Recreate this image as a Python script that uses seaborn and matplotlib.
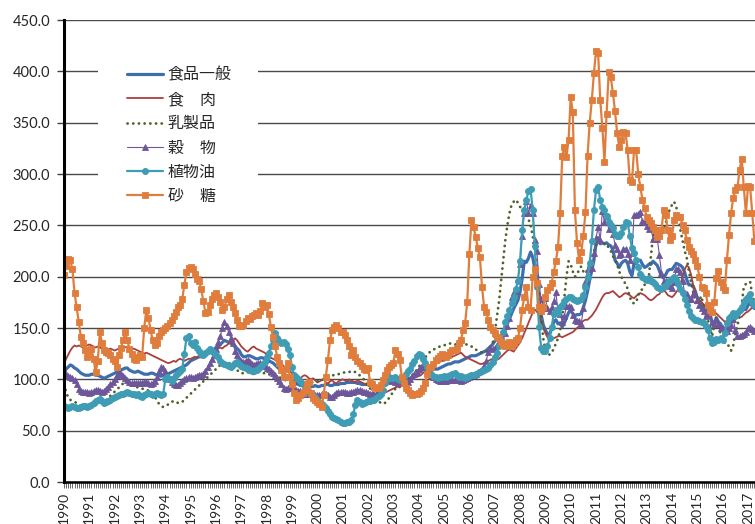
"""
FAO food price indices (2002-2004 = 100), monthly, Jan 1990 - Apr 2017.
"""
import matplotlib

matplotlib.use("Agg")
import matplotlib.pyplot as plt
import numpy as np
import pandas as pd
import seaborn as sns
from matplotlib.patches import Rectangle
from matplotlib.ticker import FuncFormatter, MultipleLocator

years = list(range(1990, 2018))

# one row per year, Jan..Dec (2017: Jan..Apr)
food = [
    107, 110, 112, 114, 113, 111, 110, 108, 106, 105, 104, 104,
    104, 105, 105, 104, 104, 103, 102, 101, 102, 103, 104, 105,
    106, 107, 108, 109, 110, 111, 111, 109, 108, 107, 107, 108,
    107, 106, 105, 105, 105, 106, 106, 105, 104, 104, 103, 104,
    104, 105, 106, 107, 108, 109, 110, 111, 112, 113, 114, 116,
    118, 119, 120, 121, 122, 122, 123, 124, 126, 127, 128, 129,
    131, 132, 134, 136, 138, 137, 136, 135, 134, 132, 130, 128,
    124, 122, 122, 123, 123, 122, 121, 120, 120, 121, 121, 120,
    119, 118, 117, 116, 114, 112, 110, 108, 106, 104, 103, 102,
    100, 98, 96, 95, 94, 94, 93, 93, 93, 93, 93, 94,
    93, 93, 94, 94, 95, 95, 94, 94, 95, 95, 95, 96,
    96, 96, 97, 97, 97, 97, 97, 96, 96, 95, 95, 95,
    95, 94, 93, 92, 92, 92, 93, 94, 95, 96, 96, 97,
    97, 98, 98, 98, 98, 99, 99, 100, 101, 102, 103, 104,
    106, 108, 110, 111, 112, 112, 111, 110, 110, 110, 111, 112,
    113, 114, 115, 115, 116, 117, 117, 117, 118, 119, 120, 121,
    122, 123, 123, 123, 124, 125, 126, 127, 128, 130, 132, 134,
    137, 139, 140, 142, 145, 149, 154, 159, 164, 169, 173, 177,
    185, 198, 215, 214, 218, 224, 219, 208, 197, 180, 163, 153,
    148, 144, 144, 149, 156, 158, 154, 155, 151, 155, 160, 165,
    167, 164, 162, 163, 163, 164, 170, 177, 186, 197, 206, 216,
    232, 238, 232, 233, 232, 233, 231, 230, 226, 216, 213, 209,
    213, 215, 216, 213, 205, 201, 213, 213, 216, 216, 212, 209,
    210, 212, 212, 215, 213, 211, 206, 200, 199, 202, 206, 207,
    207, 210, 213, 212, 211, 209, 204, 197, 192, 192, 191, 186,
    179, 176, 171, 171, 168, 166, 164, 155, 155, 160, 156, 154,
    150, 149, 151, 153, 156, 163, 161, 162, 164, 167, 168, 168,
    172, 175, 171, 169,
]

meat = [
    115, 120, 124, 128, 131, 133, 132, 133, 132, 131, 132, 133,
    134, 133, 132, 131, 132, 131, 130, 131, 130, 129, 130, 129,
    128, 129, 130, 131, 132, 131, 132, 130, 129, 130, 129, 128,
    127, 126, 125, 126, 125, 124, 123, 122, 121, 120, 119, 118,
    117, 116, 116, 117, 118, 117, 119, 120, 119, 118, 119, 120,
    120, 121, 122, 121, 123, 124, 123, 122, 124, 126, 127, 128,
    129, 130, 131, 130, 132, 133, 135, 136, 138, 140, 138, 135,
    132, 130, 128, 127, 129, 131, 132, 130, 129, 128, 127, 126,
    124, 122, 121, 120, 119, 117, 116, 115, 113, 111, 110, 108,
    106, 104, 103, 102, 101, 103, 104, 103, 101, 100, 101, 99,
    97, 98, 99, 100, 97, 96, 98, 99, 97, 96, 98, 99,
    100, 99, 98, 100, 99, 98, 97, 99, 98, 97, 96, 95,
    94, 93, 92, 91, 90, 88, 87, 86, 87, 88, 89, 90,
    91, 92, 93, 92, 94, 95, 96, 97, 99, 101, 103, 104,
    103, 104, 106, 108, 110, 112, 113, 114, 115, 116, 117, 118,
    118, 119, 120, 121, 122, 123, 124, 125, 126, 124, 122, 121,
    120, 119, 118, 117, 116, 115, 115, 116, 117, 118, 119, 120,
    120, 119, 120, 122, 124, 126, 128, 129, 128, 127, 130, 133,
    136, 140, 145, 150, 155, 160, 165, 168, 166, 162, 155, 150,
    145, 141, 139, 139, 140, 141, 142, 142, 141, 142, 143, 144,
    145, 146, 148, 150, 152, 155, 157, 158, 158, 160, 162, 165,
    168, 172, 176, 180, 183, 184, 184, 185, 186, 184, 182, 180,
    181, 183, 184, 183, 182, 180, 179, 181, 183, 184, 183, 182,
    180, 178, 177, 178, 180, 182, 183, 186, 187, 185, 182, 181,
    180, 182, 185, 188, 193, 200, 207, 211, 209, 202, 192, 185,
    180, 177, 175, 173, 171, 170, 169, 168, 166, 164, 162, 160,
    158, 156, 157, 159, 161, 163, 164, 162, 160, 161, 163, 165,
    166, 168, 170, 172,
]

dairy = [
    95, 88, 82, 80, 79, 78, 77, 75, 74, 73, 72, 72,
    72, 73, 74, 75, 76, 77, 78, 79, 80, 82, 84, 86,
    88, 90, 92, 94, 96, 97, 98, 97, 96, 95, 93, 92,
    92, 91, 90, 90, 89, 88, 86, 83, 80, 76, 74, 73,
    74, 75, 77, 78, 79, 78, 77, 77, 78, 80, 82, 84,
    86, 88, 90, 92, 94, 96, 98, 100, 102, 104, 106, 108,
    110, 112, 114, 116, 117, 117, 116, 115, 113, 111, 109, 107,
    106, 106, 107, 107, 106, 106, 105, 106, 107, 107, 106, 106,
    105, 105, 104, 104, 103, 103, 102, 101, 100, 99, 98, 97,
    96, 96, 95, 95, 95, 96, 96, 96, 96, 97, 97, 98,
    98, 99, 99, 100, 101, 102, 103, 104, 104, 105, 105, 106,
    106, 107, 107, 107, 108, 108, 107, 106, 104, 102, 100, 97,
    94, 91, 88, 85, 82, 79, 77, 76, 77, 79, 82, 85,
    88, 91, 93, 95, 97, 99, 100, 101, 102, 104, 106, 109,
    112, 115, 118, 121, 124, 126, 128, 129, 130, 131, 132, 132,
    133, 134, 134, 135, 135, 134, 134, 134, 133, 133, 134, 134,
    133, 132, 131, 129, 128, 127, 126, 126, 127, 129, 132, 135,
    145, 160, 175, 195, 215, 235, 250, 262, 270, 273, 275, 272,
    268, 266, 265, 262, 256, 250, 240, 225, 210, 190, 160, 140,
    128, 126, 124, 126, 130, 135, 140, 148, 160, 180, 200, 215,
    212, 205, 200, 202, 207, 210, 205, 203, 207, 212, 218, 225,
    230, 235, 234, 232, 232, 232, 228, 225, 220, 216, 212, 205,
    200, 196, 193, 188, 180, 175, 174, 175, 182, 186, 188, 192,
    196, 200, 220, 240, 244, 240, 235, 240, 245, 252, 260, 266,
    270, 273, 268, 258, 245, 235, 225, 218, 205, 195, 185, 175,
    172, 178, 181, 168, 160, 158, 150, 142, 153, 161, 150, 145,
    141, 135, 135, 132, 128, 133, 145, 152, 164, 173, 190, 193,
    194, 195, 182, 175,
]

cereals = [
    107, 105, 103, 102, 101, 99, 95, 91, 89, 88, 88, 88,
    87, 88, 89, 90, 90, 89, 88, 89, 91, 93, 95, 97,
    100, 104, 106, 105, 103, 101, 99, 97, 96, 96, 96, 96,
    96, 96, 97, 97, 96, 95, 96, 98, 102, 108, 112, 111,
    108, 104, 100, 97, 95, 94, 94, 96, 98, 100, 101, 102,
    102, 101, 102, 103, 104, 104, 105, 108, 112, 116, 120, 124,
    130, 136, 142, 150, 156, 152, 146, 140, 135, 128, 124, 120,
    118, 117, 118, 119, 117, 115, 114, 115, 116, 116, 115, 113,
    111, 110, 108, 106, 104, 101, 98, 95, 92, 91, 92, 93,
    92, 91, 90, 89, 89, 88, 86, 86, 87, 87, 86, 85,
    85, 85, 86, 87, 86, 85, 83, 83, 85, 87, 88, 88,
    88, 88, 87, 87, 88, 88, 89, 90, 90, 89, 88, 88,
    87, 86, 86, 85, 86, 88, 92, 97, 102, 103, 101, 99,
    98, 97, 96, 96, 96, 97, 96, 97, 100, 103, 105, 107,
    110, 112, 114, 113, 111, 108, 104, 102, 100, 99, 98, 98,
    98, 98, 99, 100, 99, 99, 100, 99, 98, 99, 100, 101,
    102, 104, 104, 105, 107, 108, 110, 113, 118, 127, 131, 130,
    131, 133, 135, 134, 138, 145, 152, 160, 180, 185, 186, 198,
    212, 240, 262, 274, 262, 270, 262, 236, 225, 193, 178, 172,
    179, 169, 167, 170, 176, 185, 165, 164, 156, 162, 171, 171,
    170, 163, 158, 157, 157, 154, 169, 195, 207, 212, 208, 223,
    238, 248, 236, 264, 253, 259, 246, 249, 242, 231, 227, 221,
    222, 227, 227, 222, 216, 223, 260, 260, 261, 263, 254, 253,
    249, 246, 247, 237, 238, 237, 221, 204, 196, 196, 192, 191,
    189, 195, 207, 207, 205, 196, 184, 183, 178, 178, 183, 183,
    177, 172, 169, 167, 162, 163, 167, 156, 154, 158, 154, 150,
    150, 147, 147, 150, 153, 159, 148, 142, 142, 143, 144, 146,
    150, 151, 149, 147,
]

oils = [
    74, 73, 72, 73, 74, 73, 72, 72, 73, 74, 74, 73,
    74, 75, 77, 79, 80, 81, 79, 77, 78, 79, 80, 82,
    83, 84, 85, 86, 86, 87, 88, 87, 86, 86, 85, 86,
    84, 83, 85, 86, 87, 86, 85, 86, 87, 86, 85, 86,
    100, 102, 100, 98, 101, 104, 106, 108, 110, 125, 140, 142,
    135, 133, 136, 131, 128, 125, 124, 126, 128, 130, 128, 126,
    124, 122, 118, 116, 115, 114, 113, 112, 114, 116, 117, 115,
    113, 112, 111, 110, 109, 108, 108, 109, 110, 112, 114, 117,
    122, 126, 132, 138, 145, 140, 137, 135, 136, 134, 130, 124,
    112, 104, 102, 100, 98, 95, 92, 90, 88, 87, 85, 83,
    80, 78, 76, 74, 72, 69, 66, 63, 62, 61, 60, 58,
    57, 57, 58, 58, 60, 66, 75, 80, 78, 76, 77, 78,
    79, 79, 80, 80, 82, 84, 86, 90, 96, 100, 102, 101,
    101, 102, 100, 99, 100, 102, 105, 108, 110, 115, 118, 123,
    125, 124, 120, 116, 112, 108, 105, 103, 102, 101, 102, 102,
    103, 102, 103, 104, 105, 106, 104, 102, 103, 102, 101, 102,
    103, 104, 104, 105, 106, 107, 108, 109, 110, 111, 114, 117,
    122, 126, 132, 138, 146, 156, 162, 168, 174, 180, 188, 196,
    215, 245, 265, 275, 283, 285, 265, 230, 190, 151, 131, 128,
    128, 132, 140, 151, 164, 168, 165, 170, 172, 176, 178, 180,
    180, 178, 177, 176, 177, 178, 182, 190, 200, 213, 235, 265,
    284, 287, 275, 268, 265, 259, 253, 250, 247, 242, 240, 240,
    243, 248, 253, 252, 240, 228, 223, 216, 209, 203, 200, 198,
    197, 199, 196, 195, 193, 190, 189, 188, 190, 192, 195, 197,
    198, 200, 197, 193, 188, 184, 178, 172, 167, 162, 160, 158,
    158, 157, 156, 155, 152, 148, 140, 135, 136, 139, 138, 140,
    138, 145, 155, 160, 162, 165, 162, 165, 168, 170, 175, 178,
    180, 183, 175, 172,
]

sugar = [
    202, 210, 217, 216, 207, 184, 170, 156, 141, 135, 129, 122,
    125, 130, 120, 107, 118, 146, 135, 129, 127, 126, 124, 120,
    118, 112, 124, 131, 138, 146, 138, 130, 125, 120, 119, 122,
    124, 122, 150, 168, 160, 148, 138, 133, 135, 142, 146, 148,
    150, 152, 155, 158, 162, 166, 170, 172, 178, 192, 205, 208,
    209, 207, 203, 198, 196, 188, 176, 165, 166, 172, 178, 182,
    184, 180, 175, 168, 170, 178, 182, 175, 170, 165, 158, 152,
    152, 153, 157, 160, 159, 162, 163, 165, 163, 167, 174, 170,
    172, 164, 151, 141, 132, 122, 116, 109, 102, 110, 116, 102,
    95, 87, 80, 82, 85, 87, 90, 95, 97, 87, 82, 80,
    78, 76, 73, 85, 102, 119, 138, 148, 151, 153, 150, 146,
    146, 143, 138, 132, 124, 129, 122, 118, 116, 113, 110, 109,
    111, 97, 95, 93, 92, 92, 94, 99, 104, 109, 112, 114,
    116, 129, 125, 119, 102, 96, 92, 90, 87, 85, 86, 86,
    87, 89, 92, 96, 105, 112, 112, 115, 119, 121, 123, 125,
    124, 122, 124, 127, 129, 129, 131, 135, 138, 148, 155, 175,
    222, 255, 248, 239, 228, 219, 190, 170, 166, 158, 151, 148,
    145, 141, 140, 136, 133, 132, 134, 136, 132, 135, 138, 140,
    150, 168, 180, 190, 170, 168, 200, 207, 194, 170, 167, 170,
    180, 187, 190, 194, 205, 215, 229, 262, 318, 326, 317, 333,
    375, 360, 265, 233, 216, 224, 240, 263, 318, 350, 372, 398,
    420, 418, 372, 345, 312, 358, 399, 394, 379, 361, 340, 326,
    333, 341, 340, 323, 294, 292, 323, 323, 300, 287, 275, 267,
    258, 255, 252, 248, 245, 239, 240, 245, 265, 260, 245, 236,
    240, 255, 260, 258, 258, 250, 245, 236, 229, 225, 222, 216,
    210, 200, 190, 189, 184, 172, 168, 166, 175, 199, 206, 195,
    190, 187, 216, 241, 262, 277, 284, 287, 304, 315, 287, 262,
    288, 287, 262, 235,
]

series = [
    ("食品一般", food),
    ("食\u3000肉", meat),
    ("乳製品", dairy),
    ("穀\u3000物", cereals),
    ("植物油", oils),
    ("砂\u3000糖", sugar),
]

styles = {
    "食品一般": dict(color="#3D6EAE", linewidth=2.3),
    "食\u3000肉": dict(color="#A9403E", linewidth=1.3),
    "乳製品": dict(color="#4F6228", linewidth=2.0,
                 linestyle=(0, (0.05, 2.0)), dash_capstyle="round"),
    "穀\u3000物": dict(color="#6E569A", linewidth=0.8, marker="^",
                     markersize=4.6),
    "植物油": dict(color="#3E9DB4", linewidth=1.6, marker="o",
                 markersize=4.4),
    "砂\u3000糖": dict(color="#E07D3C", linewidth=1.6, marker="s",
                     markersize=4.9),
}

sns.set_style("white")
plt.rcParams["font.family"] = ["Lato", "Noto Sans CJK JP", "DejaVu Sans"]

fig = plt.figure(figsize=(7.55, 5.24), dpi=100)
ax = fig.add_axes([64 / 755, 42 / 524, 691 / 755, 462 / 524])

for name, values in series:
    dataf = pd.DataFrame({"month": np.arange(len(values)), "value": values})
    style = dict(styles[name])
    color = style["color"]
    if "marker" in style:
        style.update(markeredgecolor=color, markerfacecolor=color,
                     markeredgewidth=0.6)
    sns.lineplot(data=dataf, x="month", y="value", ax=ax, label=name,
                 estimator=None, errorbar=None, **style)

n_months = len(food)
ax.set_xlim(0, n_months - 0.7)
ax.set_ylim(0, 450)
ax.set_xlabel("")
ax.set_ylabel("")

ax.yaxis.set_major_locator(MultipleLocator(50))
ax.yaxis.set_major_formatter(FuncFormatter(lambda v, _: f"{v:.1f}"))
ax.set_xticks(np.arange(0, n_months, 12))
ax.set_xticklabels([str(y) for y in years], rotation=90)
ax.xaxis.set_minor_locator(MultipleLocator(1))

ax.tick_params(axis="y", which="major", direction="out", length=5,
               width=1, color="#404040", labelsize=10.5, pad=5, left=True)
ax.tick_params(axis="x", which="both", direction="out", length=4,
               width=0.6, color="#505050", bottom=True)
ax.tick_params(axis="x", which="major", labelsize=10, pad=3)

ax.grid(axis="y", color="#4a4a4a", linewidth=1.0)
ax.grid(axis="x", visible=False)
for side in ("top", "right"):
    ax.spines[side].set_visible(False)
ax.spines["left"].set_linewidth(2.2)
ax.spines["left"].set_color("black")
ax.spines["bottom"].set_linewidth(1.8)
ax.spines["bottom"].set_color("black")

# white box behind the legend that hides the grid lines
ax.add_patch(Rectangle((34 / 691, (482 - 212) / 462), 160 / 691, 167 / 462,
                       transform=ax.transAxes, facecolor="white",
                       edgecolor="none", zorder=1))

ax.legend(loc="upper left", bbox_to_anchor=(63 / 691, (482 - 67) / 462),
          frameon=False, fontsize=11.5, handlelength=2.25,
          handletextpad=0.3, labelspacing=0.63, borderpad=0,
          borderaxespad=0)

fig.savefig("out.png", dpi=100)
